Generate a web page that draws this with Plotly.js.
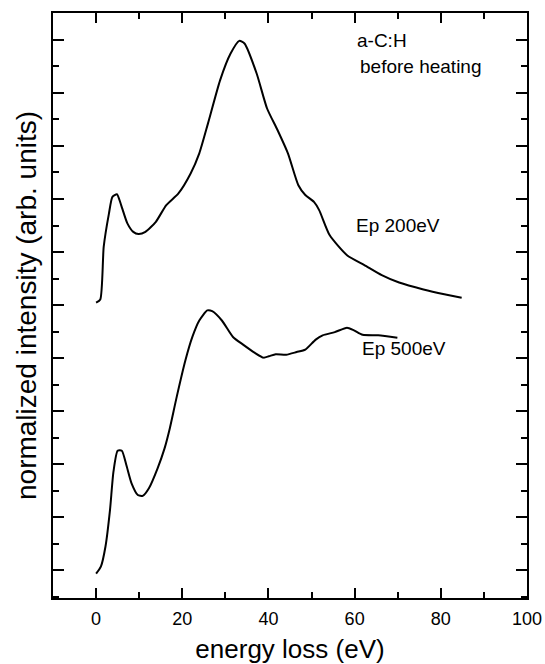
<!DOCTYPE html>
<html>
<head>
<meta charset="utf-8">
<script src="https://cdn.plot.ly/plotly-3.0.1.min.js"></script>
<style>html,body{margin:0;padding:0;background:#fff;}</style>
</head>
<body>
<div id="chart" style="width:545px;height:664px;"></div>
<script>
// Ep 200eV spectrum (upper curve)
const ep200_x = [0, 0.97, 1.77, 2.98, 3.79, 4.84, 5.81, 7.26, 8.63, 9.84, 11.45, 13.87, 16.29, 19.11, 21.94, 23.95, 25.97, 28.79, 31.21, 33.23, 34.44, 37.26, 39.68, 42.1, 44.52, 46.94, 48.55, 50.56, 51.77, 54.19, 58.23, 62.26, 66.29, 70.32, 75.97, 80.81, 84.84];
const ep200_y = [11.09, 11.21, 13.20, 14.45, 15.08, 15.18, 14.77, 14.08, 13.76, 13.68, 13.76, 14.14, 14.77, 15.21, 15.96, 16.72, 17.85, 19.48, 20.48, 20.96, 20.86, 19.73, 18.41, 17.60, 16.72, 15.52, 15.15, 14.89, 14.58, 13.64, 12.88, 12.51, 12.13, 11.85, 11.59, 11.41, 11.28];

// Ep 500eV spectrum (lower curve)
const ep500_x = [0, 1.13, 2.18, 3.23, 4.03, 5.0, 5.97, 7.02, 8.23, 9.68, 10.81, 12.26, 14.27, 15.89, 17.1, 18.71, 20.73, 22.34, 23.95, 25.81, 26.94, 29.19, 31.77, 34.03, 36.85, 38.87, 40.08, 41.69, 44.11, 46.53, 48.55, 50.97, 52.58, 55.4, 58.23, 59.84, 61.85, 65.48, 69.92];
const ep500_y = [0.875, 1.15, 1.90, 3.28, 4.72, 5.51, 5.51, 4.97, 4.28, 3.84, 3.81, 4.10, 4.85, 5.60, 6.35, 7.54, 8.92, 9.80, 10.42, 10.80, 10.77, 10.42, 9.80, 9.52, 9.20, 9.02, 9.07, 9.15, 9.13, 9.23, 9.32, 9.70, 9.86, 9.98, 10.15, 10.05, 9.88, 9.86, 9.77];

// Tick labels
const xTickVals = [0, 20, 40, 60, 80, 100];
const xTickText = ["0", "20", "40", "60", "80", "100"];

// Text labels
const labelTexts = ["a-C:H", "before heating", "Ep 200eV", "Ep 500eV"];

const FONT = "Liberation Sans, Arial, Helvetica, sans-serif";
const XR = [-10, 100], YR = [-0.04, 22.01];

const traces = [
  {x: ep200_x, y: ep200_y, name: "Ep 200eV", mode: "lines",
   line: {color: "#000", width: 2, shape: "spline", smoothing: 0.6}},
  {x: ep500_x, y: ep500_y, name: "Ep 500eV", mode: "lines",
   line: {color: "#000", width: 2, shape: "spline", smoothing: 0.6}}
];

const layout = {
  width: 545, height: 664,
  margin: {l: 53, r: 18, t: 13, b: 66},
  paper_bgcolor: "#fff", plot_bgcolor: "#fff",
  showlegend: false,
  font: {family: FONT, color: "#000"},
  xaxis: {
    range: XR,
    tickmode: "array", tickvals: xTickVals, ticktext: xTickText,
    ticks: "inside", ticklen: 10, tickwidth: 2, tickcolor: "#000",
    minor: {tickmode: "linear", tick0: 0, dtick: 10, ticks: "inside", ticklen: 6, tickwidth: 2, tickcolor: "#000", showgrid: false},
    ticklabelstandoff: 3,
    showline: true, linecolor: "#000", linewidth: 2, mirror: "ticks",
    showgrid: false, zeroline: false,
    tickfont: {family: FONT, size: 18, color: "#000"},
    title: {text: "energy loss (eV)", font: {family: FONT, size: 26, color: "#000"}, standoff: 12}
  },
  yaxis: {
    range: YR,
    tick0: 1, dtick: 2, tickmode: "linear",
    ticks: "inside", ticklen: 11, tickwidth: 2, tickcolor: "#000",
    minor: {tickmode: "linear", tick0: 0, dtick: 1, ticks: "inside", ticklen: 6, tickwidth: 2, tickcolor: "#000", showgrid: false},
    showticklabels: false,
    showline: true, linecolor: "#000", linewidth: 2, mirror: "ticks",
    showgrid: false, zeroline: false,
    title: {text: "normalized intensity (arb. units)", font: {family: FONT, size: 28, color: "#000"}, standoff: 6}
  },
  annotations: [
    {px: 355, py: 40.7, text: labelTexts[0], size: 19},
    {px: 358, py: 66.7, text: labelTexts[1], size: 19},
    {px: 354, py: 225, text: labelTexts[2], size: 19},
    {px: 360, py: 348.3, text: labelTexts[3], size: 19}
  ].map(a => ({
    xref: "paper", yref: "paper",
    x: (a.px - 53) / (545 - 53 - 18),
    y: 1 - (a.py - 13) / (664 - 13 - 66),
    text: a.text, showarrow: false, xanchor: "left", yanchor: "middle",
    font: {family: FONT, size: a.size, color: "#000"}
  }))
};

Plotly.newPlot("chart", traces, layout, {displayModeBar: false, staticPlot: true});
</script>
</body>
</html>
